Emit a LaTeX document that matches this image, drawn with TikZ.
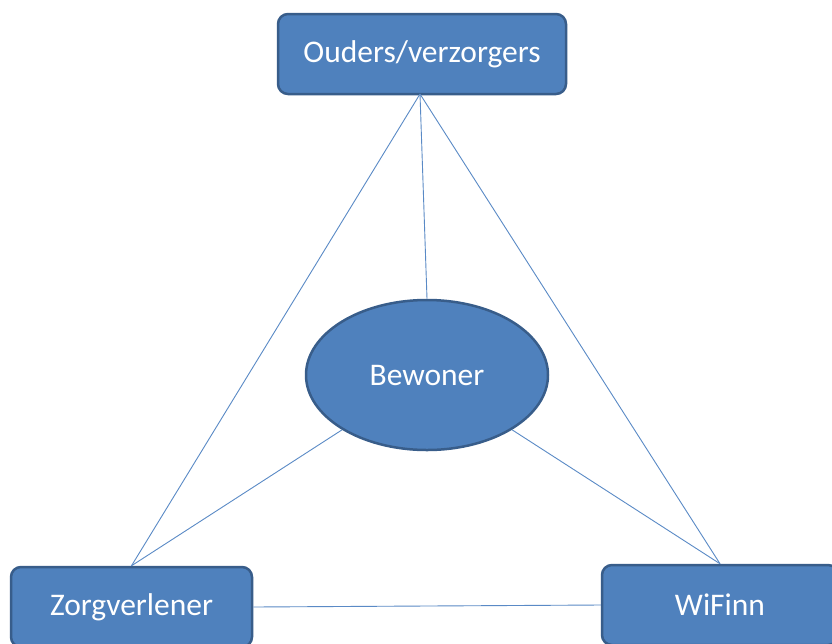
\documentclass[tikz,border=0pt]{standalone}
\usepackage{fontspec}
\setmainfont{Carlito}
\usetikzlibrary{shapes.geometric}
\definecolor{boxfill}{HTML}{4F81BD}
\definecolor{boxline}{HTML}{385D8A}
\definecolor{conn}{HTML}{5A8AC6}
\tikzset{
  box/.style={draw=boxline, line width=2.5pt, fill=boxfill, rounded corners=10pt,
    text=white, font=\fontsize{31.5}{36}\selectfont, inner sep=0pt},
  oval/.style={ellipse, draw=boxline, line width=2.5pt, fill=boxfill,
    text=white, font=\fontsize{31.5}{36}\selectfont, inner sep=0pt},
  link/.style={draw=conn, line width=0.9pt}
}
\begin{document}
\begin{tikzpicture}[x=1pt,y=-1pt]
\useasboundingbox (0,0) rectangle (832,643);
\clip (0,0) rectangle (832,643);
\fill[white] (0,0) rectangle (832,643);
\node[box, minimum width=288pt, minimum height=80pt] (ouders) at (422,54) {Ouders/verzorgers};
\node[box, minimum width=241pt, minimum height=80pt] (zorg) at (131.5,607) {Zorgverlener};
\node[box, minimum width=236pt, minimum height=80pt] (wifinn) at (720,605) {WiFinn};
\node[oval, minimum width=242pt, minimum height=150pt] (bew) at (427,375) {Bewoner};
\coordinate (top) at (420,94);
\draw[link] (top) -- (zorg.north);
\draw[link] (top) -- (wifinn.north);
\draw[link] (top) -- (bew.north);
\draw[link] (bew) -- (zorg.north);
\draw[link] (bew) -- (wifinn.north);
\draw[link] (zorg.east) -- (wifinn.west);
\end{tikzpicture}
\end{document}
